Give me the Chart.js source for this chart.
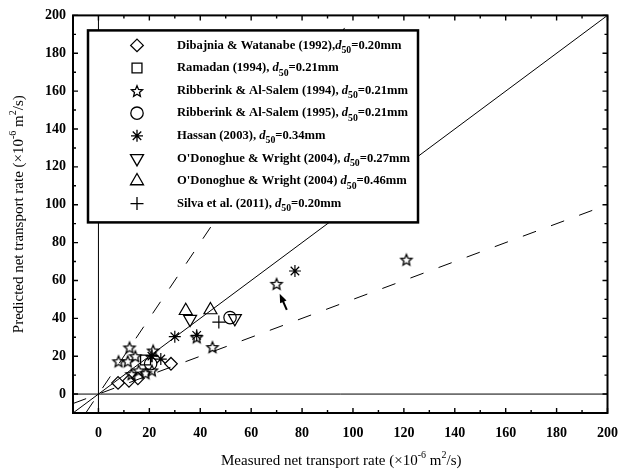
<!DOCTYPE html>
<html><head><meta charset="utf-8">
<script src="https://cdn.jsdelivr.net/npm/chart.js@4/dist/chart.umd.min.js"></script>
<style>html,body{margin:0;padding:0;background:#fff;}</style>
</head><body>
<canvas id="c" width="630" height="474"></canvas>
<script>
// ---- data (measured, predicted) in 1e-6 m^2/s ----
const dibajnia    = [[7.7,5.9],[12,7],[15.5,8.3],[28.5,16]];
const ramadan     = [[18.5,18]];
const ribberink94 = [[7.9,17.3],[11.5,17.3],[12.2,24.6],[14.5,20],[21.5,23],[13,10.5],[15.8,12.5],[18.5,11],[21,12.5],[38.6,30],[44.8,24.8],[70,58.2],[121,71]];
const ribberink95 = [[20.5,16],[51.7,40.4]];
const hassan      = [[21,20],[24.5,18.5],[30,30.3],[38.6,31],[77.2,65]];
const odon27      = [[36,39.6],[53.6,40]];
const odon46      = [[34.3,44],[44,44.4]];
const silva       = [[21,20.3],[47.3,38]];
const xTicks = [0,20,40,60,80,100,120,140,160,180,200];
const yTicks = [0,20,40,60,80,100,120,140,160,180,200];
const axisMin = -10, axisMax = 200;
const lineOneToOne = [[-10,-10],[200,200]];
const lineFactor2  = [[-5,-10],[105,210]];
const lineHalf     = [[-10,-5],[200,100]];
const lineZeroY    = [[-10,0],[200,0]];
const lineZeroX    = [[0,-10],[0,200]];
const arrowFrom = [74,44.5], arrowTo = [71.2,53];

const legendItems = [
  ['Dibajnia & Watanabe (1992),','0.20mm'],
  ['Ramadan (1994), ','0.21mm'],
  ['Ribberink & Al-Salem (1994), ','0.21mm'],
  ['Ribberink & Al-Salem (1995), ','0.21mm'],
  ['Hassan (2003), ','0.34mm'],
  ["O'Donoghue & Wright (2004), ",'0.27mm'],
  ["O'Donoghue & Wright (2004) ",'0.46mm'],
  ['Silva et al. (2011), ','0.20mm']
];

const SERIF = '"Liberation Serif","Times New Roman",serif';
const pts = a => a.map(p => ({x:p[0], y:p[1]}));

function makeStar(R){
  const s = Math.ceil(R*2+4);
  const c = document.createElement('canvas'); c.width=s; c.height=s;
  const g = c.getContext('2d');
  g.strokeStyle='#000'; g.lineWidth=1.3; g.lineJoin='miter';
  g.beginPath();
  for(let i=0;i<10;i++){
    const r = i%2===0 ? R : R*0.45;
    const a = -Math.PI/2 + i*Math.PI/5;
    const px = s/2 + r*Math.cos(a), py = s/2 + r*Math.sin(a)+0.6;
    i ? g.lineTo(px,py) : g.moveTo(px,py);
  }
  g.closePath(); g.stroke();
  return c;
}
const starImg = makeStar(5.8);

const markerDefs = [
  {style:'rectRot', r:6.3, rot:0},
  {style:'rect', r:7, rot:0},
  {style:starImg, r:6, rot:0},
  {style:'circle', r:6.2, rot:0},
  {style:'star', r:6, rot:0},
  {style:'triangle', r:7.5, rot:180},
  {style:'triangle', r:7.5, rot:0},
  {style:'cross', r:6.5, rot:0}
];
const seriesData = [dibajnia, ramadan, ribberink94, ribberink95, hassan, odon27, odon46, silva];

const scatterSets = seriesData.map((d,i)=>({
  type:'scatter', data: pts(d), pointStyle: markerDefs[i].style, pointRadius: markerDefs[i].r,
  pointRotation: markerDefs[i].rot, borderColor:'#000', backgroundColor:'rgba(0,0,0,0)',
  borderWidth:1.2, pointHoverRadius: markerDefs[i].r
}));
function lineSet(d, dash){
  return {type:'line', data: pts(d), borderColor:'#000', borderWidth:1, borderDash: dash||[],
    pointRadius:0, fill:false, tension:0, showLine:true};
}
const lineSets = [lineSet(lineOneToOne), lineSet(lineFactor2,[14,16]), lineSet(lineHalf,[14,16]),
  lineSet(lineZeroY), lineSet(lineZeroX)];

function drawMarker(ctx, def, x, y){
  ctx.save();
  ctx.strokeStyle='#000'; ctx.lineWidth=1.3;
  const r = def.r;
  if (def.style === starImg){ ctx.drawImage(starImg, Math.round(x-starImg.width/2), Math.round(y-starImg.height/2)); ctx.restore(); return; }
  ctx.beginPath();
  switch(def.style){
    case 'rectRot': ctx.moveTo(x,y-r); ctx.lineTo(x+r,y); ctx.lineTo(x,y+r); ctx.lineTo(x-r,y); ctx.closePath(); break;
    case 'rect': { const s=r*Math.SQRT1_2; ctx.rect(x-s,y-s,2*s,2*s); break; }
    case 'circle': ctx.arc(x,y,r,0,Math.PI*2); break;
    case 'star': for(let k=0;k<4;k++){const a=k*Math.PI/4; ctx.moveTo(x-r*Math.cos(a),y-r*Math.sin(a)); ctx.lineTo(x+r*Math.cos(a),y+r*Math.sin(a));} break;
    case 'triangle': {
      const sgn = def.rot===180 ? -1 : 1;
      const w = r*Math.sqrt(3)/2;
      ctx.moveTo(x, y - sgn*r); ctx.lineTo(x+w, y + sgn*r/2); ctx.lineTo(x-w, y + sgn*r/2); ctx.closePath(); break;
    }
    case 'cross': ctx.moveTo(x-r,y); ctx.lineTo(x+r,y); ctx.moveTo(x,y-r); ctx.lineTo(x,y+r); break;
  }
  ctx.stroke();
  ctx.restore();
}

function drawRich(ctx, parts, x, y){
  let w = 0;
  parts.forEach(p=>{ ctx.font = p.f; p.w = ctx.measureText(p.t).width; w += p.w; });
  let cx = x - w/2;
  ctx.textBaseline='middle'; ctx.textAlign='left';
  parts.forEach(p=>{ ctx.font=p.f; ctx.fillText(p.t, cx, y + (p.dy||0)); cx += p.w; });
}
function titleParts(label){
  const f = '15px '+SERIF, fs = '10px '+SERIF;
  return [{t:label+' (\u00d710',f},{t:'-6',f:fs,dy:-6},{t:' m',f},{t:'2',f:fs,dy:-6},{t:'/s)',f}];
}

const overlay = {
  id:'overlay',
  afterDatasetsDraw(chart){
    const ctx = chart.ctx, ca = chart.chartArea;
    const xs = chart.scales.x, ys = chart.scales.y;
    ctx.save();
    // arrow
    const ax0 = xs.getPixelForValue(arrowFrom[0]), ay0 = ys.getPixelForValue(arrowFrom[1]);
    const ax1 = xs.getPixelForValue(arrowTo[0]), ay1 = ys.getPixelForValue(arrowTo[1]);
    const ang = Math.atan2(ay1-ay0, ax1-ax0);
    ctx.strokeStyle='#000'; ctx.fillStyle='#000'; ctx.lineWidth=2;
    ctx.beginPath(); ctx.moveTo(ax0,ay0); ctx.lineTo(ax1-6*Math.cos(ang), ay1-6*Math.sin(ang)); ctx.stroke();
    ctx.beginPath(); ctx.moveTo(ax1,ay1);
    ctx.lineTo(ax1-9*Math.cos(ang)+3.5*Math.sin(ang), ay1-9*Math.sin(ang)-3.5*Math.cos(ang));
    ctx.lineTo(ax1-9*Math.cos(ang)-3.5*Math.sin(ang), ay1-9*Math.sin(ang)+3.5*Math.cos(ang));
    ctx.closePath(); ctx.fill();

    // legend box
    const bx = ca.left+15, by = ca.top+15, bw = 330, bh = 192;
    ctx.fillStyle='#fff'; ctx.fillRect(bx,by,bw,bh);
    ctx.lineWidth=2.5; ctx.strokeStyle='#000'; ctx.strokeRect(bx,by,bw,bh);
    const rowH = 22.6, y0 = by + 15;
    ctx.fillStyle='#000';
    const F = 12.6, FS = 9.8;
    legendItems.forEach((it,i)=>{
      const y = y0 + i*rowH;
      drawMarker(ctx, markerDefs[i], bx+49, y);
      let cx = bx+89;
      ctx.textBaseline='middle'; ctx.textAlign='left';
      ctx.font = 'bold '+F+'px '+SERIF; ctx.fillText(it[0], cx, y); cx += ctx.measureText(it[0]).width;
      ctx.font = 'italic bold '+F+'px '+SERIF; ctx.fillText('d', cx, y); cx += ctx.measureText('d').width;
      ctx.font = 'bold '+FS+'px '+SERIF; ctx.fillText('50', cx, y+5); cx += ctx.measureText('50').width;
      ctx.font = 'bold '+F+'px '+SERIF; ctx.fillText('='+it[1], cx, y);
    });

    // frame
    ctx.lineWidth=2; ctx.strokeStyle='#000';
    ctx.strokeRect(ca.left, ca.top, ca.right-ca.left, ca.bottom-ca.top);
    // ticks (inward), major every 20, minor every 10
    ctx.lineWidth=1.4;
    ctx.beginPath();
    for(let v=0; v<=200; v+=10){
      const L = v%20===0 ? 5 : 3;
      const px = xs.getPixelForValue(v), py = ys.getPixelForValue(v);
      ctx.moveTo(px, ca.bottom); ctx.lineTo(px, ca.bottom-L);
      ctx.moveTo(px, ca.top); ctx.lineTo(px, ca.top+L);
      ctx.moveTo(ca.left, py); ctx.lineTo(ca.left+L, py);
      ctx.moveTo(ca.right, py); ctx.lineTo(ca.right-L, py);
    }
    ctx.stroke();

    // axis titles
    ctx.fillStyle='#000';
    drawRich(ctx, titleParts('Measured net transport rate'), (ca.left+ca.right)/2+1, 461);
    ctx.save();
    ctx.translate(19, (ca.top+ca.bottom)/2);
    ctx.rotate(-Math.PI/2);
    drawRich(ctx, titleParts('Predicted net transport rate'), 0, 0);
    ctx.restore();
    ctx.restore();
  }
};

const tickFont = {family: SERIF, size: 14, weight: 'bold'};
new Chart(document.getElementById('c'), {
  type:'scatter',
  data:{ datasets: [...scatterSets, ...lineSets] },
  options:{
    responsive:false, animation:false,
    layout:{padding:{top:8, right:17, left:0, bottom:0}},
    plugins:{legend:{display:false}, tooltip:{enabled:false}},
    scales:{
      x:{ type:'linear', min:axisMin, max:axisMax,
        afterBuildTicks(s){ s.ticks = xTicks.map(v=>({value:v})); },
        afterFit(s){ s.height = 61; },
        grid:{display:false, drawTicks:false}, border:{display:false},
        ticks:{ font:tickFont, color:'#000', padding:12, maxRotation:0, autoSkip:false } },
      y:{ type:'linear', min:axisMin, max:axisMax,
        afterBuildTicks(s){ s.ticks = yTicks.map(v=>({value:v})); },
        afterFit(s){ s.width = 73; },
        grid:{display:false, drawTicks:false}, border:{display:false},
        ticks:{ font:tickFont, color:'#000', padding:7, autoSkip:false } }
    }
  },
  plugins:[overlay]
});
</script>
</body></html>
